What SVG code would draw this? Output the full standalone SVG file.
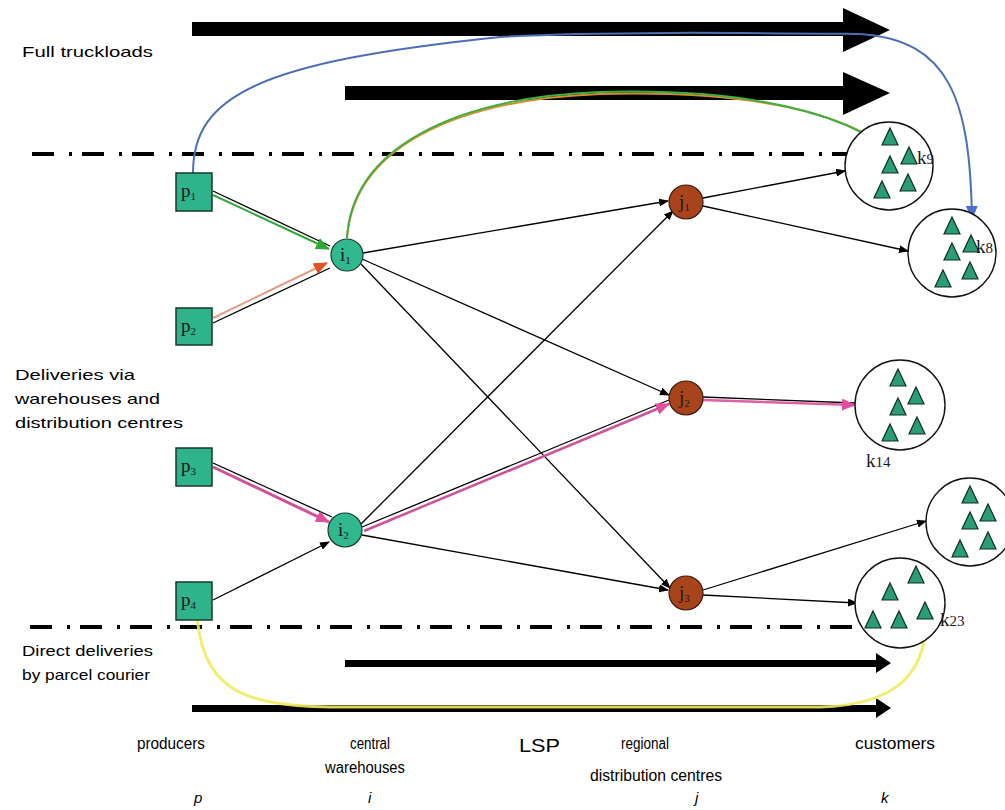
<svg xmlns="http://www.w3.org/2000/svg" width="1005" height="810" viewBox="0 0 1005 810">
<style>
.lbl{font-family:"Liberation Sans",Arial,sans-serif;font-size:15px;fill:#000}
.bl{font-size:16px}
.node{font-family:"Liberation Serif","Times New Roman",serif;font-size:19px;fill:#1a1a1a}
.sub{font-size:11px}
.ks{font-size:15px}
.sq{fill:#2fb38a;stroke:#173a2c;stroke-width:1.5}
.wh{fill:#31b88e;stroke:#173a2c;stroke-width:1.2}
.rd{fill:#a8441c;stroke:#3a1a0a;stroke-width:1.2}
.cu{fill:#fff;stroke:#111;stroke-width:1.4}
.tri{fill:#2a9d78;stroke:#0f2e22;stroke-width:1.2}
.ln{stroke:#000;stroke-width:1.3;fill:none}
.dd{stroke:#000;stroke-width:4;stroke-dasharray:22 15 3 10;fill:none}
.big{fill:#000}
</style>
<defs>
<marker id="ab" markerUnits="userSpaceOnUse" markerWidth="10" markerHeight="8" refX="9" refY="4" orient="auto"><path d="M0,0 L10,4 L0,8 z" fill="#000"/></marker>
<marker id="ag" markerUnits="userSpaceOnUse" markerWidth="14" markerHeight="12" refX="13" refY="6" orient="auto"><path d="M0,0 L14,6 L0,12 z" fill="#2fa83a"/></marker>
<marker id="ao" markerUnits="userSpaceOnUse" markerWidth="14" markerHeight="12" refX="13" refY="6" orient="auto"><path d="M0,0 L14,6 L0,12 z" fill="#e0521f"/></marker>
<marker id="abl" markerUnits="userSpaceOnUse" markerWidth="14" markerHeight="12" refX="13" refY="6" orient="auto"><path d="M0,0 L14,6 L0,12 z" fill="#4a6fd0"/></marker>
<marker id="ap" markerUnits="userSpaceOnUse" markerWidth="14" markerHeight="12" refX="13" refY="6" orient="auto"><path d="M0,0 L14,6 L0,12 z" fill="#e0509a"/></marker>
<marker id="ay" markerUnits="userSpaceOnUse" markerWidth="14" markerHeight="12" refX="13" refY="6" orient="auto"><path d="M0,0 L14,6 L0,12 z" fill="#f2ec60"/></marker>
<path id="t" d="M0,-9 L8,8 L-8,8 z"/>
</defs>

<g id="flows">
<path d="M192,22 H843 V8 L890,30 L843,52 V36 H192 z" class="big"/>
<path d="M345,86 H843 V72 L890,93 L843,115 V100 H345 z" class="big"/>
<path d="M345,660 H876 V653 L891,663 L876,673 V667 H345 z" class="big"/>
<path d="M192,705 H876 V698 L891,708 L876,718 V712 H192 z" class="big"/>
<line x1="32" y1="154" x2="897" y2="154" class="dd"/>
<line x1="30" y1="627" x2="883" y2="627" class="dd"/>
</g>

<g id="labels">
<text class="lbl" x="22" y="57" textLength="131" lengthAdjust="spacingAndGlyphs">Full truckloads</text>
<text class="lbl" x="15" y="380" textLength="120" lengthAdjust="spacingAndGlyphs">Deliveries via</text>
<text class="lbl" x="15" y="404" textLength="145" lengthAdjust="spacingAndGlyphs">warehouses and</text>
<text class="lbl" x="15" y="428" textLength="168" lengthAdjust="spacingAndGlyphs">distribution centres</text>
<text class="lbl" x="22" y="656" textLength="131" lengthAdjust="spacingAndGlyphs">Direct deliveries</text>
<text class="lbl" x="22" y="680" textLength="128" lengthAdjust="spacingAndGlyphs">by parcel courier</text>
<text class="lbl bl" x="137" y="749" textLength="68" lengthAdjust="spacingAndGlyphs">producers</text>
<text class="lbl bl" x="350" y="749" textLength="40" lengthAdjust="spacingAndGlyphs">central</text>
<text class="lbl bl" x="325" y="773" textLength="80" lengthAdjust="spacingAndGlyphs">warehouses</text>
<text class="lbl" x="519" y="752" textLength="41" lengthAdjust="spacingAndGlyphs" style="font-size:18px">LSP</text>
<text class="lbl bl" x="621" y="749" textLength="48" lengthAdjust="spacingAndGlyphs">regional</text>
<text class="lbl bl" x="590" y="781" textLength="132" lengthAdjust="spacingAndGlyphs">distribution centres</text>
<text class="lbl bl" x="855" y="749" textLength="80" lengthAdjust="spacingAndGlyphs">customers</text>
<text class="lbl" x="194" y="803" style="font-style:italic">p</text>
<text class="lbl" x="368" y="803" style="font-style:italic">i</text>
<text class="lbl" x="695" y="803" style="font-style:italic">j</text>
<text class="lbl" x="881" y="803" style="font-style:italic">k</text>
</g>

<g id="connectors">
<line x1="213" y1="191" x2="330" y2="246" class="ln"/>
<line x1="213" y1="195" x2="329" y2="249" stroke="#2fa83a" stroke-width="2" marker-end="url(#ag)"/>
<line x1="213" y1="323" x2="330" y2="268" class="ln"/>
<line x1="213" y1="318" x2="327" y2="263" stroke="#e89a80" stroke-width="2" marker-end="url(#ao)"/>
<line x1="213" y1="463" x2="332" y2="517" class="ln"/>
<line x1="213" y1="467" x2="329" y2="522" stroke="#d0509a" stroke-width="3" marker-end="url(#ap)"/>
<line x1="213" y1="600" x2="329" y2="542" class="ln" marker-end="url(#ab)"/>
<line x1="363" y1="253" x2="668" y2="201" class="ln" marker-end="url(#ab)"/>
<line x1="362" y1="259" x2="669" y2="395" class="ln" marker-end="url(#ab)"/>
<line x1="361" y1="264" x2="670" y2="588" class="ln" marker-end="url(#ab)"/>
<line x1="361" y1="524" x2="673" y2="211" class="ln" marker-end="url(#ab)"/>
<line x1="362" y1="527" x2="669" y2="400" class="ln"/>
<line x1="364" y1="531" x2="669" y2="404" stroke="#d0509a" stroke-width="2.5" marker-end="url(#ap)"/>
<line x1="362" y1="535" x2="668" y2="590" class="ln" marker-end="url(#ab)"/>
<line x1="703" y1="198" x2="845" y2="171" class="ln" marker-end="url(#ab)"/>
<line x1="703" y1="206" x2="908" y2="251" class="ln" marker-end="url(#ab)"/>
<line x1="703" y1="397" x2="855" y2="403" class="ln"/>
<line x1="703" y1="400" x2="855" y2="405" stroke="#e060a8" stroke-width="2.5" marker-end="url(#ap)"/>
<line x1="703" y1="590" x2="926" y2="521" class="ln" marker-end="url(#ab)"/>
<line x1="703" y1="595" x2="857" y2="603" class="ln" marker-end="url(#ab)"/>
<path d="M193,173 C193,95 260,62 500,37 C600,31 760,33 860,34 C950,40 970,100 972,219" stroke="#4a6fb5" stroke-width="2" fill="none" marker-end="url(#abl)"/>
<path d="M347,238 C354,150 450,100 600,94 C750,90 850,112 897,156" stroke="#d98a2a" stroke-width="2" fill="none" marker-end="url(#ao)"/>
<path d="M347,238 C352,150 450,98 600,92 C750,88 850,112 906,162" stroke="#3cb043" stroke-width="2" fill="none" marker-end="url(#ag)"/>
<path d="M196,604 C200,690 240,705 330,707 L820,707 C900,705 925,670 926,622" stroke="#f2ec60" stroke-width="3" fill="none" opacity="0.9" marker-end="url(#ay)"/>
</g>

<g id="p1"><rect x="176" y="173" width="36" height="38" class="sq"/><text class="node" x="181" y="197">p<tspan class="sub" dy="3">1</tspan></text></g>
<g id="p2"><rect x="176" y="308" width="36" height="37" class="sq"/><text class="node" x="181" y="332">p<tspan class="sub" dy="3">2</tspan></text></g>
<g id="p3"><rect x="176" y="448" width="36" height="38" class="sq"/><text class="node" x="181" y="472">p<tspan class="sub" dy="3">3</tspan></text></g>
<g id="p4"><rect x="176" y="582" width="36" height="38" class="sq"/><text class="node" x="181" y="606">p<tspan class="sub" dy="3">4</tspan></text></g>

<g id="i1"><circle cx="347" cy="255" r="16" class="wh"/><text class="node" x="340" y="261">i<tspan class="sub" dy="3">1</tspan></text></g>
<g id="i2"><circle cx="345" cy="530" r="17" class="wh"/><text class="node" x="338" y="536">i<tspan class="sub" dy="3">2</tspan></text></g>

<g id="j1"><circle cx="686" cy="202" r="17" class="rd"/><text class="node" x="679" y="208">j<tspan class="sub" dy="3">1</tspan></text></g>
<g id="j2"><circle cx="686" cy="398" r="17" class="rd"/><text class="node" x="679" y="404">j<tspan class="sub" dy="3">2</tspan></text></g>
<g id="j3"><circle cx="686" cy="593" r="17" class="rd"/><text class="node" x="679" y="599">j<tspan class="sub" dy="3">3</tspan></text></g>

<g id="k9"><circle cx="889" cy="166" r="44" class="cu"/>
<use href="#t" x="890" y="137" class="tri"/><use href="#t" x="909" y="156" class="tri"/><use href="#t" x="890" y="165" class="tri"/><use href="#t" x="882" y="190" class="tri"/><use href="#t" x="908" y="183" class="tri"/>
<text class="node" x="917" y="164">k<tspan class="ks">9</tspan></text></g>

<g id="k8"><circle cx="952" cy="253" r="44" class="cu"/>
<use href="#t" x="952" y="226" class="tri"/><use href="#t" x="971" y="244" class="tri"/><use href="#t" x="952" y="252" class="tri"/><use href="#t" x="943" y="279" class="tri"/><use href="#t" x="970" y="271" class="tri"/>
<text class="node" x="976" y="253">k<tspan class="ks">8</tspan></text></g>

<g id="k14"><circle cx="900" cy="405" r="45" class="cu"/>
<use href="#t" x="898" y="378" class="tri"/><use href="#t" x="916" y="396" class="tri"/><use href="#t" x="898" y="407" class="tri"/><use href="#t" x="890" y="433" class="tri"/><use href="#t" x="917" y="426" class="tri"/>
<text class="node" x="866" y="467">k<tspan class="ks">14</tspan></text></g>

<g id="k4"><circle cx="970" cy="522" r="44" class="cu"/>
<use href="#t" x="970" y="495" class="tri"/><use href="#t" x="988" y="513" class="tri"/><use href="#t" x="970" y="521" class="tri"/><use href="#t" x="960" y="549" class="tri"/><use href="#t" x="988" y="541" class="tri"/>
</g>

<g id="k23"><circle cx="900" cy="603" r="45" class="cu"/>
<use href="#t" x="916" y="575" class="tri"/><use href="#t" x="890" y="592" class="tri"/><use href="#t" x="873" y="620" class="tri"/><use href="#t" x="899" y="620" class="tri"/><use href="#t" x="925" y="611" class="tri"/>
<text class="node" x="940" y="626">k<tspan class="ks">23</tspan></text></g>
</svg>
